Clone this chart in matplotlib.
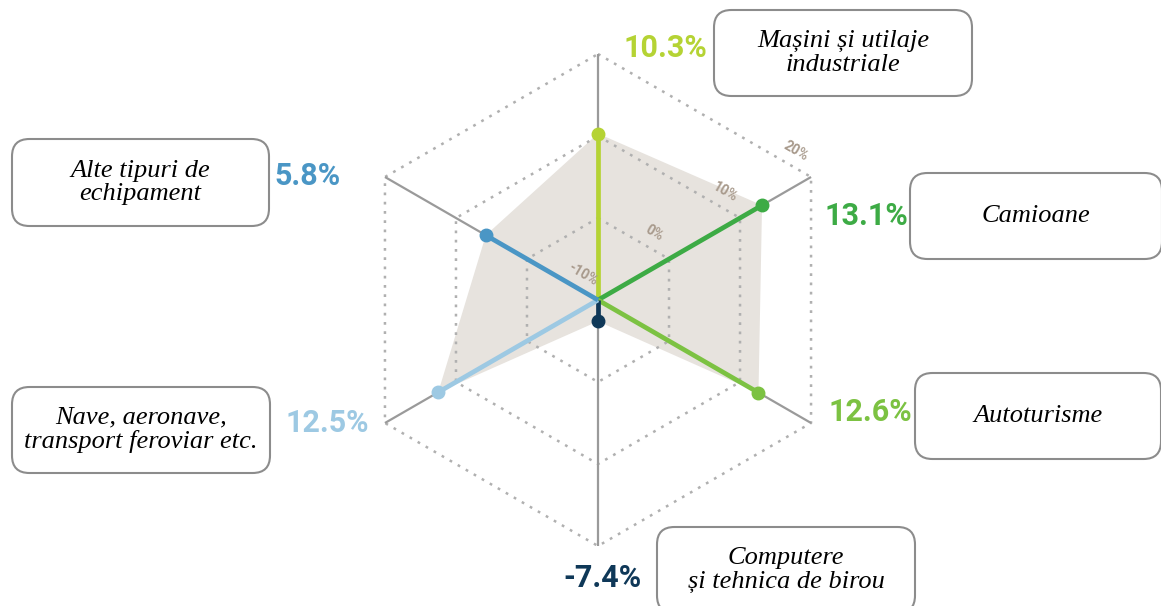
import numpy as np
import matplotlib
matplotlib.use("Agg")
import matplotlib.pyplot as plt
from matplotlib.patches import FancyBboxPatch

# date: creștere pe tipuri de echipament (în sensul acelor de ceasornic, de sus)
categorii = ["Mașini și utilaje\nindustriale", "Camioane", "Autoturisme",
             "Computere\nși tehnica de birou", "Nave, aeronave,\ntransport feroviar etc.",
             "Alte tipuri de\nechipament"]
valori = [10.3, 13.1, 12.6, -7.4, 12.5, 5.8]
culori = ["#b5d334", "#3dab45", "#7cc242", "#0f3858", "#9dc9e3", "#4a96c5"]
inele = [-10, 0, 10, 20]
r_min = -10

W, H = 1161, 606
scale = 8.2          # pixeli pe punct procentual
cx, cy = 598, 300    # centrul graficului, pixeli

fig = plt.figure(figsize=(W / 100, H / 100), dpi=100)
ax = fig.add_axes([0, 0, 1, 1])
ax.set_xlim(-cx / scale, (W - cx) / scale)
ax.set_ylim(-(H - cy) / scale, cy / scale)
ax.axis("off")

unghiuri = np.deg2rad([90, 30, -30, -90, -150, 150])


def pol(v, a):
    r = v - r_min
    return r * np.cos(a), r * np.sin(a)


# suprafata gri
px, py = zip(*[pol(v, a) for v, a in zip(valori, unghiuri)])
ax.fill(px, py, color="#e7e3de", zorder=1, lw=0)

# inele punctate (hexagoane)
for inel in inele[1:]:
    hx, hy = zip(*[pol(inel, a) for a in list(unghiuri) + [unghiuri[0]]])
    ax.plot(hx, hy, color="#b0b0b0", lw=1.8, ls=(0, (1.1, 2.6)), zorder=2)

# axe gri
for a in unghiuri:
    ex, ey = pol(inele[-1], a)
    ax.plot([0, ex], [0, ey], color="#9a9a9a", lw=1.6, zorder=3, solid_capstyle="butt")

# linii colorate + puncte
for v, a, c in zip(valori, unghiuri, culori):
    ex, ey = pol(v, a)
    ax.plot([0, ex], [0, ey], color=c, lw=3.4, zorder=4, solid_capstyle="butt")
    ax.plot(ex, ey, "o", color=c, ms=9, zorder=5)

# etichete inele
a_lab = unghiuri[1]
perp = a_lab + np.pi / 2
for inel in inele:
    bx, by = pol(inel, a_lab)
    ax.text(bx + 3.6 * np.cos(perp), by + 3.6 * np.sin(perp), f"{inel}%",
            rotation=-30, ha="center", va="center", fontsize=10,
            color="#a89a8c", fontweight="bold", family="Roboto", zorder=6)

# etichete valori (pozitii in pixeli)
poz_val = [(665, 48), (866, 216), (870, 412), (602, 578), (327, 423), (307, 176)]
for v, c, (x, y) in zip(valori, culori, poz_val):
    ax.text(x / W, 1 - y / H, f"{v}%", transform=fig.transFigure, ha="center",
            va="center", fontsize=22, fontweight="bold", color=c, family="Roboto")

# casete cu denumiri
casete = [(714, 10, 258, 86), (910, 173, 252, 86), (915, 373, 246, 86),
          (657, 527, 258, 86), (12, 387, 258, 86), (12, 139, 257, 87)]
for text, (x, y, w, h) in zip(categorii, casete):
    box = FancyBboxPatch((x / W, 1 - (y + h) / H), w / W, h / H,
                         boxstyle="round,pad=0,rounding_size=0.015",
                         transform=fig.transFigure, facecolor="white",
                         edgecolor="#8c8c8c", lw=1.5, zorder=7,
                         mutation_aspect=W / H)
    fig.add_artist(box)
    fig.text((x + w / 2) / W, 1 - (y + h / 2) / H, text, ha="center", va="center",
             fontsize=19, style="italic", family=["Liberation Serif", "DejaVu Serif"],
             linespacing=1.1, zorder=8)

fig.savefig("out.png", dpi=100, facecolor="white")
